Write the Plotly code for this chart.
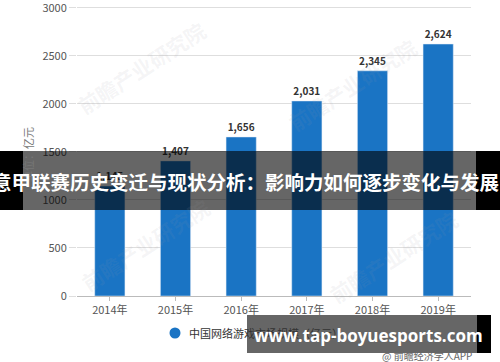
import plotly.graph_objects as go

years = ["2014年", "2015年", "2016年", "2017年", "2018年", "2019年"]
market_size = [1145, 1407, 1656, 2031, 2345, 2624]
y_ticks = [0, 500, 1000, 1500, 2000, 2500, 3000]
series_name = "中国网络游戏市场规模（亿元）"
y_title = "单位：亿元"
banner_title = "意甲联赛历史变迁与现状分析：影响力如何逐步变化与发展"
site_mark = "www.tap-boyuesports.com"
source_note = "@ 前瞻经济学人APP"
bg_mark = "前瞻产业研究院"

W, H = 500, 362
L, R, T, B = 77, 29, 6, 66
PW, PH = W - L - R, H - T - B
BLUE = "#1a74c4"

def px(x):
    return (x - L) / PW

def py(y):
    return (H - B - y) / PH

fig = go.Figure()
fig.add_trace(go.Bar(
    x=years, y=market_size, marker_color=BLUE,
    texttemplate="%{y:,}", textposition="outside",
    textfont=dict(size=10, color="#333", family="Noto Sans CJK SC", weight="bold"),
    cliponaxis=False, showlegend=False, name=series_name, hoverinfo="skip",
))

shapes = []
def rect(x0, y0, x1, y1, color, op):
    shapes.append(dict(type="rect", xref="paper", yref="paper",
                       x0=px(x0), x1=px(x1), y0=py(y1), y1=py(y0),
                       fillcolor=color, opacity=op, line=dict(width=0), layer="above"))

# legend marker (manual)
shapes.append(dict(type="circle", xref="paper", yref="paper",
                   x0=px(169.5), x1=px(180.5), y0=py(338.5), y1=py(327.5),
                   fillcolor=BLUE, line=dict(width=0), layer="above"))

rect(23, 151, 476, 210, "black", 0.6)
rect(0, 151, 23, 210, "black", 1)
rect(476, 151, 500, 210, "black", 1)
rect(247, 315, 477, 353, "black", 0.6)
rect(477, 315, 491, 353, "black", 1)

def ann(text, x, y, font, xanchor="center", yanchor="middle", angle=0):
    return dict(text=text, x=px(x), y=py(y), xref="paper", yref="paper",
                xanchor=xanchor, yanchor=yanchor, showarrow=False,
                textangle=angle, font=font)

annotations = []
for cx, cy in [(141, 68), (352, 85), (145, 245), (393, 257)]:
    annotations.append(ann(bg_mark, cx, cy,
                           dict(size=21, color="rgba(150,155,165,0.10)",
                                family="Noto Sans CJK SC", weight="bold"), angle=-33))
annotations.append(ann(y_title, 28, 155,
                       dict(size=11, color="#777", family="Noto Sans CJK SC"), angle=-90))
annotations.append(ann(series_name, 187, 333,
                       dict(size=11, color="#333", family="Noto Sans CJK SC"), xanchor="left"))
annotations.append(ann(banner_title, 245, 181,
                       dict(size=19.5, color="white", family="Noto Sans CJK SC", weight="bold")))
annotations.append(ann(site_mark, 368, 335,
                       dict(size=17, color="white", family="Open Sans", weight="bold")))
annotations.append(ann(source_note, 427, 355,
                       dict(size=10, color="#666", family="Noto Sans CJK SC")))

fig.update_layout(
    width=W, height=H, margin=dict(l=L, r=R, t=T, b=B, autoexpand=False),
    paper_bgcolor="white", plot_bgcolor="white",
    bargap=0.54, showlegend=False, hovermode=False,
    font=dict(family="Noto Sans CJK SC", size=11, color="#555"),
    xaxis=dict(showgrid=False, showline=True, linecolor="#bbb", ticks="outside",
               ticklen=4, tickcolor="#bbb", tickfont=dict(size=11, color="#555"),
               automargin=False),
    yaxis=dict(range=[0, 3020], tickvals=y_ticks,
               gridcolor="#dedede", showline=False,
               zeroline=False, ticks="outside", ticklen=7, tickcolor="#dedede",
               tickfont=dict(size=11, color="#555"), automargin=False,
               ticklabeloverflow="allow"),
    shapes=shapes, annotations=annotations,
)
fig.write_html("out.html", config={"displayModeBar": False},
               post_script="document.body.style.margin='0';document.body.style.overflow='hidden';")
